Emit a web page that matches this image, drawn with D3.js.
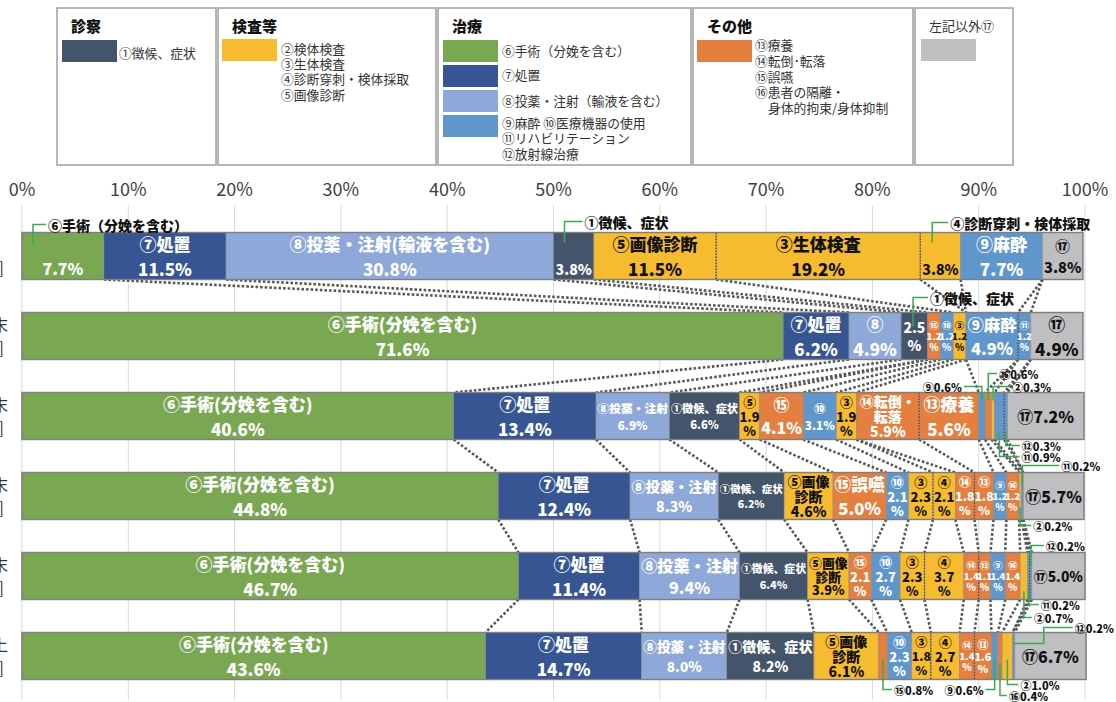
<!DOCTYPE html>
<html>
<head>
<meta charset="utf-8">
<script src="https://cdn.jsdelivr.net/npm/d3@7"></script>
<style>
body{margin:0;background:#fff}
svg text{font-family:"Noto Sans CJK JP","Noto Sans",sans-serif}
</style>
</head>
<body>
<div id="chart"></div>
<script>
// 区分（帯の並び順）
const cats = ["⑥","⑦","⑧","①","⑤","⑮","⑩","③","④","⑭","⑬","⑨","⑯","②","⑪","⑫","⑰"]
const catColor = {
  "①":"#44546A",
  "②":"#F6BB2E","③":"#F6BB2E","④":"#F6BB2E","⑤":"#F6BB2E",
  "⑥":"#7AA852","⑦":"#375592","⑧":"#8EA9D9",
  "⑨":"#5F96CB","⑩":"#5F96CB","⑪":"#5F96CB","⑫":"#5F96CB",
  "⑬":"#E47F3F","⑭":"#E47F3F","⑮":"#E47F3F","⑯":"#E47F3F",
  "⑰":"#BFBFC1"
}
const darkText = ["②","③","④","⑤","⑰"]

// 各行の割合（%）
const row1 = [7.7, 11.5, 30.8, 3.8, 11.5, 0, 0, 19.2, 3.8, 0, 0, 7.7, 0, 0, 0, 0, 3.8]
const row2 = [71.6, 6.2, 4.9, 2.5, 0, 1.2, 1.2, 1.2, 0, 0, 0, 4.9, 0, 0, 1.2, 0, 4.9]
const row3 = [40.6, 13.4, 6.9, 6.6, 1.9, 4.1, 3.1, 1.9, 0, 5.9, 5.6, 0.6, 0.6, 0.3, 0.9, 0.3, 7.2]
const row4 = [44.8, 12.4, 8.3, 6.2, 4.6, 5.0, 2.1, 2.3, 2.1, 1.8, 1.8, 1.2, 1.2, 0.2, 0.2, 0, 5.7]
const row5 = [46.7, 11.4, 9.4, 6.4, 3.9, 2.1, 2.7, 2.3, 3.7, 1.4, 1.1, 1.4, 1.4, 0.7, 0.2, 0.2, 5.0]
const row6 = [43.6, 14.7, 8.0, 8.2, 6.1, 0.8, 2.3, 1.8, 2.7, 1.4, 1.6, 0.6, 0.4, 1.0, 0, 0.2, 6.7]
const rowValues = [row1, row2, row3, row4, row5, row6]

// 帯の中のラベル  @=外に名称  #=縦積み  ^=上に吹き出し  _=下に吹き出し  ==1行
const row1Labels = ["@⑥手術（分娩を含む）","⑦処置","⑧投薬・注射(輸液を含む)","@①徴候、症状","⑤画像診断","","","③生体検査","@④診断穿刺・検体採取","","","⑨麻酔","","","","","⑰"]
const row2Labels = ["⑥手術(分娩を含む)","⑦処置","⑧","@①徴候、症状","","#","#","#","","","","⑨麻酔","","","#","","⑰"]
const row3Labels = ["⑥手術(分娩を含む)","⑦処置","⑧投薬・注射","①徴候、症状","#","⑮","⑩","#","","⑭転倒・\n転落","⑬療養","^","^","^","_","_","="]
const row4Labels = ["⑥手術(分娩を含む)","⑦処置","⑧投薬・注射","①徴候、症状","⑤画像\n診断","⑮誤嚥","#","#","#","#","#","#","#","_","^","","="]
const row5Labels = ["⑥手術(分娩を含む)","⑦処置","⑧投薬・注射","①徴候、症状","⑤画像\n診断","#","#","#","#","#","#","#","#","_","_","^","="]
const row6Labels = ["⑥手術(分娩を含む)","⑦処置","⑧投薬・注射","①徴候、症状","⑤画像\n診断","_","#","#","#","#","#","_","_","_","","^","="]
const rowLabels = [row1Labels, row2Labels, row3Labels, row4Labels, row5Labels, row6Labels]

// 行見出し（左端で切れている部分）
const rowHead1 = ["", "末", "末", "末", "末", "上"]
const rowHead2 = ["]", "]", "]", "]", "]", "]"]

const ticks = [0,10,20,30,40,50,60,70,80,90,100]

// 吹き出しの引き出し線の配置
const callouts = {
  "0⑥":{at:11, leg:8, reach:13, inset:13},
  "0①":{at:11, leg:11, reach:18, inset:10},
  "0④":{at:12, leg:10, reach:16, inset:10},
  "1①":{at:12, leg:15, reach:15, inset:14},
  "2⑨":{leg:6, reach:-18, inset:8},
  "2⑯":{leg:19, reach:9, inset:8},
  "2②":{leg:6, reach:17, inset:8},
  "2⑪":{leg:17, reach:20, inset:8},
  "2⑫":{leg:6, reach:14, inset:8},
  "3②":{leg:6, reach:11, inset:12},
  "3⑪":{leg:7, reach:37, inset:12},
  "4②":{leg:18, reach:8, inset:8},
  "4⑪":{leg:5, reach:10, inset:12},
  "4⑫":{leg:7, reach:13, inset:12},
  "5⑮":{leg:10, reach:9, inset:20},
  "5⑨":{leg:10, reach:-9, inset:20},
  "5⑯":{leg:16, reach:7, inset:15},
  "5②":{leg:5, reach:11, inset:20},
  "5⑫":{leg:5, reach:29, inset:11, jog:30}
}

// 凡例
const legendTitles = ["診察","検査等","治療","その他","左記以外⑰"]
const legendText1 = ["①徴候、症状"]
const legendText2 = ["②検体検査","③生体検査","④診断穿刺・検体採取","⑤画像診断"]
const legendText3 = ["⑥手術（分娩を含む）","⑦処置","⑧投薬・注射（輸液を含む）","⑨麻酔 ⑩医療機器の使用","⑪リハビリテーション","⑫放射線治療"]
const legendText4 = ["⑬療養","⑭転倒･転落","⑮誤嚥","⑯患者の隔離・","身体的拘束/身体抑制"]

const W = 1116, H = 702
const svg = d3.select("#chart").append("svg")
  .attr("width", W).attr("height", H)

const x = d3.scaleLinear().domain([0, 100]).range([22, 1085])
const y = d3.scaleBand().domain(d3.range(6)).range([216, 696])
  .paddingInner(0.4125).paddingOuter(0.20625)
const bw = y.bandwidth()
const fmt = d3.format(".1f")

// ---- 凡例 ----
const lg = svg.append("g")
const boxes = [[57,216],[218,436],[438,691],[693,913],[915,1013]]
boxes.forEach(function(b){
  lg.append("rect").attr("x", b[0]).attr("y", 8).attr("width", b[1]-b[0]).attr("height", 157)
    .attr("fill", "#fff").attr("stroke", "#a6a6a6").attr("stroke-width", 1.6)
})
legendTitles.forEach(function(t, i){
  lg.append("text").attr("x", i < 4 ? boxes[i][0] + 14 : 929).attr("y", 25)
    .attr("dominant-baseline", "central")
    .attr("font-size", i < 4 ? 15 : 13).attr("font-weight", i < 4 ? 900 : 400)
    .attr("fill", i < 4 ? "#111" : "#333").text(t)
})
const swatches = [[62,40,"①"],[222,39,"②"],[443,40,"⑥"],[443,65,"⑦"],[443,90,"⑧"],[443,115,"⑨"],[697,40,"⑬"],[921,39,"⑰"]]
swatches.forEach(function(s){
  lg.append("rect").attr("x", s[0]).attr("y", s[1]).attr("width", 55).attr("height", 22)
    .attr("fill", catColor[s[2]])
})
function legendLines(list, xs, ys){
  list.forEach(function(t, i){
    lg.append("text").attr("x", xs[i]).attr("y", ys[i]).attr("dominant-baseline", "central")
      .attr("font-size", 12.8).attr("fill", "#333").text(t)
  })
}
legendLines(legendText1, [119], [52])
legendLines(legendText2, [281,281,281,281], [48,63,78,94])
legendLines(legendText3, [502,502,502,502,502,502], [50,74,100,122,137,153])
legendLines(legendText4, [755,755,755,755,768], [44,60,76,91,107])

// ---- 目盛と格子線 ----
svg.append("g").selectAll("line").data(ticks).enter().append("line")
  .attr("x1", d => x(d)).attr("x2", d => x(d))
  .attr("y1", 205).attr("y2", 700)
  .attr("stroke", "#d9d9d9").attr("stroke-width", 1)
svg.append("g").selectAll("text").data(ticks).enter().append("text")
  .attr("x", d => x(d)).attr("y", 188)
  .attr("text-anchor", "middle").attr("dominant-baseline", "central")
  .attr("font-family", "Liberation Sans, Arial, sans-serif")
  .attr("font-size", 18).attr("fill", "#404040")
  .text(d => d + "%")

// ---- 積み上げ ----
const stacked = rowValues.map(function(vals, ri){
  let acc = 0
  return cats.map(function(c, ci){
    const s = {row: ri, cat: c, ci: ci, value: vals[ci], x0: acc, label: rowLabels[ri][ci]}
    acc += vals[ci]
    s.x1 = acc
    return s
  }).filter(s => s.value > 0)
})

// 行間の点線
const links = []
const seen = {}
for (let r = 0; r < 5; r++) {
  stacked[r].forEach(function(a){
    const b = stacked[r+1].find(s => s.cat == a.cat)
    if (!b) return
    [["x0","x0"],["x1","x1"]].forEach(function(k){
      const va = a[k[0]], vb = b[k[1]]
      if (va < 0.05 || va > 99.7 || vb > 99.7) return
      const key = r + ":" + va.toFixed(2) + ":" + vb.toFixed(2)
      if (seen[key]) return
      seen[key] = 1
      links.push({xa: x(va), ya: y(r) + bw, xb: x(vb), yb: y(r+1)})
    })
  })
}
svg.append("g").selectAll("line").data(links).enter().append("line")
  .attr("x1", d => d.xa).attr("y1", d => d.ya)
  .attr("x2", d => d.xb).attr("y2", d => d.yb)
  .attr("stroke", "#595959").attr("stroke-width", 2.6)
  .attr("stroke-dasharray", "2.6,2")

// 帯
const bars = svg.append("g")
stacked.forEach(function(segs, ri){
  const g = bars.append("g")
  g.selectAll("rect").data(segs).enter().append("rect")
    .attr("x", d => x(d.x0)).attr("y", y(ri))
    .attr("width", d => x(d.x1) - x(d.x0)).attr("height", bw)
    .attr("fill", d => catColor[d.cat])
    .attr("stroke", "#8c8c8c").attr("stroke-width", 0.6)
  // 同色の境界は点線
  segs.forEach(function(d, i){
    if (i > 0 && catColor[segs[i-1].cat] == catColor[d.cat]) {
      g.append("line").attr("x1", x(d.x0)).attr("x2", x(d.x0))
        .attr("y1", y(ri)).attr("y2", y(ri) + bw)
        .attr("stroke", "#3b4a5e").attr("stroke-width", 1.2).attr("stroke-dasharray", "1.5,1.5")
    }
  })
  g.append("rect").attr("x", x(0)).attr("y", y(ri))
    .attr("width", x(segs[segs.length-1].x1) - x(0)).attr("height", bw)
    .attr("fill", "none").attr("stroke", "#7f7f7f").attr("stroke-width", 1.4)
})

// 帯の中の文字
const labs = svg.append("g")
function placeLines(g, lines, cx, cy, maxW, base, minFs, lhK, fill){
  const t = g.selectAll("text.l").data(lines).enter().append("text").attr("class", "l")
    .attr("text-anchor", "middle").attr("dominant-baseline", "central")
    .attr("font-weight", 900).attr("fill", fill)
    .attr("font-size", base).text(d => d)
  const w = d3.max(t.nodes(), n => n.getComputedTextLength())
  let fs = base
  if (w > maxW) fs = Math.max(minFs, base * maxW / w)
  const lh = fs * lhK
  t.attr("font-size", fs)
    .attr("x", cx)
    .attr("y", (d, i) => cy + (i - (lines.length - 1) / 2) * lh)
}
stacked.forEach(function(segs, ri){
  segs.forEach(function(d){
    const L = d.label
    if (!L) return
    const x0 = x(d.x0), x1 = x(d.x1), w = x1 - x0, cx = (x0 + x1) / 2
    const cy = y(ri) + bw / 2
    const fill = darkText.includes(d.cat) ? "#111" : "#fff"
    const v = fmt(d.value)
    const g = labs.append("g")
    if (L == "#") {
      placeLines(g, [d.cat, v, "%"], cx, cy, w, 13, 9.5, 1.12, fill)
    } else if (L == "=") {
      placeLines(g, [d.cat + v + "%"], cx, cy, w - 4, 16, 9, 1.3, fill)
    } else if (L == "^" || L == "_" || L[0] == "@") {
      const c = callouts[ri + d.cat]
      const top = (L == "^" || L[0] == "@")
      const lx = c.at != null ? x0 + c.at : cx
      const yIn = top ? y(ri) + c.inset : y(ri) + bw - c.inset
      const yLab = top ? y(ri) - c.leg : y(ri) + bw + c.leg
      const jx = lx + (c.jog || 0)
      const ex = jx + c.reach
      g.append("path")
        .attr("d", d3.line()([[lx, yIn], [jx, yIn], [jx, yLab], [ex, yLab]]))
        .attr("fill", "none").attr("stroke", "#3aaa55").attr("stroke-width", 1.5)
      const txt = L[0] == "@" ? L.slice(1) : d.cat + v + "%"
      g.append("text").attr("x", ex + (c.reach < 0 ? -2 : 2)).attr("y", yLab)
        .attr("text-anchor", c.reach < 0 ? "end" : "start").attr("dominant-baseline", "central")
        .attr("font-size", L[0] == "@" ? 14 : 11).attr("font-weight", 900).attr("fill", "#111")
        .text(txt)
      if (L[0] == "@") {
        if (w < 30) placeLines(g, [v, "%"], cx, cy, w - 2, 14, 9, 1.35, "#fff")
        else {
          const gg = g.append("g").attr("transform", "translate(0,12)")
          placeLines(gg, [v + "%"], cx, cy, w - 4, 16, 9, 1.4, d.cat == "④" ? "#111" : "#fff")
        }
      }
    } else {
      const lines = L.split("\n").concat([v + "%"])
      const three = lines.length > 2
      placeLines(g, lines, cx, cy, w - 3, three ? 14 : 17, 9, three ? 1.08 : 1.42, fill)
    }
  })
})

// 行見出し
const heads = svg.append("g")
d3.range(6).forEach(function(ri){
  heads.append("text").attr("x", 8).attr("y", y(ri) + bw / 2 - 12)
    .attr("text-anchor", "end").attr("dominant-baseline", "central")
    .attr("font-size", 16).attr("fill", "#333").text(rowHead1[ri])
  heads.append("text").attr("x", 4).attr("y", y(ri) + bw / 2 + 11)
    .attr("text-anchor", "end").attr("dominant-baseline", "central")
    .attr("font-size", 16).attr("fill", "#333").text(rowHead2[ri])
})
</script>
</body>
</html>
